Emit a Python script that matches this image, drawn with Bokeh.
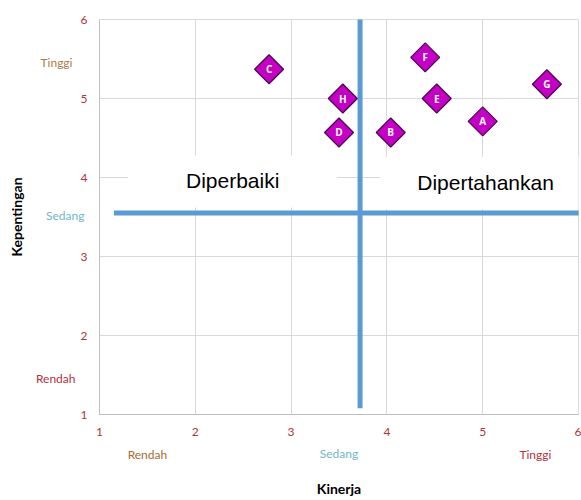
from bokeh.plotting import figure
from bokeh.models import LinearAxis, FixedTicker, ColumnDataSource
from bokeh.core.properties import value
from bokeh.embed import file_html
from bokeh.resources import INLINE
import math

# Attribute scores: performance (Kinerja) vs importance (Kepentingan)
codes = ["A", "B", "C", "D", "E", "F", "G", "H"]
kinerja = [5.00, 4.04, 2.77, 3.50, 4.52, 4.40, 5.67, 3.54]
kepentingan = [4.71, 4.57, 5.37, 4.57, 5.00, 5.52, 5.18, 5.00]

# Quadrant split points (mean performance / mean importance)
mean_kinerja = 3.72
mean_kepentingan = 3.55

ticks = [1, 2, 3, 4, 5, 6]
levels = ["Rendah", "Sedang", "Tinggi"]
level_x = [1.5, 3.5, 5.55]
level_y = [1.46, 3.52, 5.46]
x_level_colors = ["#A86A32", "#72B6C9", "#B5303C"]
y_level_colors = ["#B5303C", "#72B6C9", "#B07A48"]

quadrant_names = ["Diperbaiki", "Dipertahankan"]

tick_color = "#B0343C"
blue = "#5B9BD5"

p = figure(width=581, height=500, x_range=(1, 6), y_range=(1, 6),
           output_backend="svg", toolbar_location=None,
           min_border_left=99, min_border_right=3,
           min_border_top=19, min_border_bottom=86)
p.background_fill_color = "white"
p.border_fill_color = "white"
p.outline_line_color = "#D9D9D9"

for ax in (p.xaxis[0], p.yaxis[0]):
    ax.ticker = FixedTicker(ticks=ticks)
    ax.major_tick_line_color = None
    ax.minor_tick_line_color = None
    ax.major_tick_out = 0
    ax.axis_line_color = "#BFBFBF"
    ax.major_label_text_color = tick_color
    ax.major_label_text_font = "Lato"
    ax.major_label_text_font_size = "12px"
p.xaxis.major_label_standoff = 13
p.yaxis.major_label_standoff = 12

p.xgrid.ticker = FixedTicker(ticks=ticks)
p.ygrid.ticker = FixedTicker(ticks=ticks)
p.xgrid.grid_line_color = "#D9D9D9"
p.ygrid.grid_line_color = "#D9D9D9"


def level_axis(tick, name, color, standoff):
    """A one-tick axis without line whose only label is a level caption."""
    return LinearAxis(ticker=FixedTicker(ticks=[tick]),
                      major_label_overrides={tick: name},
                      axis_line_color=None, major_tick_line_color=None,
                      minor_tick_line_color=None, major_tick_out=0,
                      major_tick_in=0,
                      major_label_standoff=standoff,
                      major_label_text_color=color,
                      major_label_text_font="Lato",
                      major_label_text_font_size="12px",
                      axis_label_text_font="Lato",
                      axis_label_text_font_style="bold",
                      axis_label_text_font_size="14px",
                      axis_label_text_color="black")


# Level captions under the x axis: the later panels step back onto the same row
x_standoffs = [8, -19, -18]
for name, xv, col, so in zip(levels, level_x, x_level_colors, x_standoffs):
    p.add_layout(level_axis(xv, name, col, so), "below")
p.below[-1].axis_label = "Kinerja"
p.below[-1].axis_label_standoff = 15

# Level captions beside the y axis (ordered Sedang, Rendah, Tinggi outward)
y_order = [1, 0, 2]
y_standoffs = [-7, -32, -40]
for i, so in zip(y_order, y_standoffs):
    p.add_layout(level_axis(level_y[i], levels[i], y_level_colors[i], so),
                 "left")
p.left[-1].axis_label = "Kepentingan"
p.left[-1].axis_label_standoff = 13

# White text boxes for the quadrant captions (they hide the grid behind them)
p.quad(left=[1.30, 3.93], right=[3.48, 6.05], top=[4.28, 4.26],
       bottom=[3.62, 3.60], fill_color="white", line_color=None)

# Quadrant dividers
p.segment(x0=[mean_kinerja, 1.15], y0=[1.08, mean_kepentingan],
          x1=[mean_kinerja, 6.05], y1=[6.05, mean_kepentingan],
          line_color=blue, line_width=5)

p.text(x=[2.39, 5.03], y=[3.96, 3.94], text=quadrant_names,
       text_font=value("Liberation Sans"), text_font_size="21px",
       text_color="black", text_align="center", text_baseline="middle")

src = ColumnDataSource(dict(x=kinerja, y=kepentingan, code=codes))
p.scatter("x", "y", source=src, marker="square", angle=math.pi / 4,
          size=20.5, fill_color="#C400C4", line_color="#4A0A4E",
          line_width=1.2)
p.text("x", "y", text="code", source=src, text_color="white",
       text_font=value("Open Sans"), text_font_style="bold",
       text_font_size="10px", text_align="center", text_baseline="middle")

open("out.html", "w").write(file_html(p, INLINE))
